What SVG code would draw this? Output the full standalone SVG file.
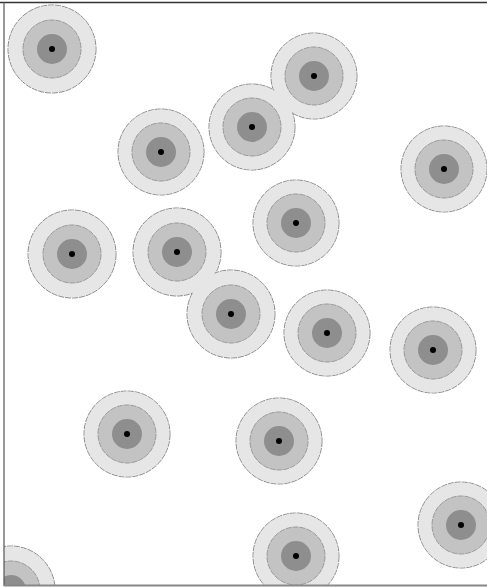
<svg xmlns="http://www.w3.org/2000/svg" xmlns:xlink="http://www.w3.org/1999/xlink" width="487" height="588" viewBox="0 0 487 588">
<defs>
<style>
.os{fill:#e6e6e6;stroke:#8c8c8c;stroke-width:1;stroke-dasharray:6 1}
.of{fill:#e6e6e6;stroke:none}
.m{fill:#c3c3c3;stroke:#8a8a8a;stroke-width:0.8;stroke-dasharray:6 1}
.i{fill:#8e8e8e;stroke:none}
.d{fill:#000}
</style>
<clipPath id="frame"><rect x="4" y="2" width="483" height="583"/></clipPath>
</defs>
<rect width="487" height="588" fill="#fff"/>
<g clip-path="url(#frame)">
<g id="outer-stroke">
<circle class="os" cx="52" cy="49" r="44"/>
<circle class="os" cx="314" cy="76" r="43"/>
<circle class="os" cx="161" cy="152" r="43"/>
<circle class="os" cx="252" cy="127" r="43"/>
<circle class="os" cx="444" cy="169" r="43"/>
<circle class="os" cx="72" cy="254" r="44"/>
<circle class="os" cx="177" cy="252" r="44"/>
<circle class="os" cx="296" cy="223" r="43"/>
<circle class="os" cx="231" cy="314" r="44"/>
<circle class="os" cx="327" cy="333" r="43"/>
<circle class="os" cx="433" cy="350" r="43"/>
<circle class="os" cx="127" cy="434" r="43"/>
<circle class="os" cx="279" cy="441" r="43"/>
<circle class="os" cx="461" cy="525" r="43"/>
<circle class="os" cx="296" cy="556" r="43"/>
<circle class="os" cx="11" cy="590" r="44"/>
</g>
<g id="outer-fill">
<circle class="of" cx="52" cy="49" r="43.4"/>
<circle class="of" cx="314" cy="76" r="42.4"/>
<circle class="of" cx="161" cy="152" r="42.4"/>
<circle class="of" cx="252" cy="127" r="42.4"/>
<circle class="of" cx="444" cy="169" r="42.4"/>
<circle class="of" cx="72" cy="254" r="43.4"/>
<circle class="of" cx="177" cy="252" r="43.4"/>
<circle class="of" cx="296" cy="223" r="42.4"/>
<circle class="of" cx="231" cy="314" r="43.4"/>
<circle class="of" cx="327" cy="333" r="42.4"/>
<circle class="of" cx="433" cy="350" r="42.4"/>
<circle class="of" cx="127" cy="434" r="42.4"/>
<circle class="of" cx="279" cy="441" r="42.4"/>
<circle class="of" cx="461" cy="525" r="42.4"/>
<circle class="of" cx="296" cy="556" r="42.4"/>
<circle class="of" cx="11" cy="590" r="43.4"/>
</g>
<g id="n1"><circle class="m" cx="52" cy="49" r="29"/><circle class="i" cx="52" cy="49" r="15"/><circle class="d" cx="52" cy="49" r="3"/></g>
<g id="n2"><circle class="m" cx="314" cy="76" r="29"/><circle class="i" cx="314" cy="76" r="15"/><circle class="d" cx="314" cy="76" r="3"/></g>
<g id="n3"><circle class="m" cx="161" cy="152" r="29"/><circle class="i" cx="161" cy="152" r="15"/><circle class="d" cx="161" cy="152" r="3"/></g>
<g id="n4"><circle class="m" cx="252" cy="127" r="29"/><circle class="i" cx="252" cy="127" r="15"/><circle class="d" cx="252" cy="127" r="3"/></g>
<g id="n5"><circle class="m" cx="444" cy="169" r="29"/><circle class="i" cx="444" cy="169" r="15"/><circle class="d" cx="444" cy="169" r="3"/></g>
<g id="n6"><circle class="m" cx="72" cy="254" r="29"/><circle class="i" cx="72" cy="254" r="15"/><circle class="d" cx="72" cy="254" r="3"/></g>
<g id="n7"><circle class="m" cx="177" cy="252" r="29"/><circle class="i" cx="177" cy="252" r="15"/><circle class="d" cx="177" cy="252" r="3"/></g>
<g id="n8"><circle class="m" cx="296" cy="223" r="29"/><circle class="i" cx="296" cy="223" r="15"/><circle class="d" cx="296" cy="223" r="3"/></g>
<g id="n9"><circle class="m" cx="231" cy="314" r="29"/><circle class="i" cx="231" cy="314" r="15"/><circle class="d" cx="231" cy="314" r="3"/></g>
<g id="n10"><circle class="m" cx="327" cy="333" r="29"/><circle class="i" cx="327" cy="333" r="15"/><circle class="d" cx="327" cy="333" r="3"/></g>
<g id="n11"><circle class="m" cx="433" cy="350" r="29"/><circle class="i" cx="433" cy="350" r="15"/><circle class="d" cx="433" cy="350" r="3"/></g>
<g id="n12"><circle class="m" cx="127" cy="434" r="29"/><circle class="i" cx="127" cy="434" r="15"/><circle class="d" cx="127" cy="434" r="3"/></g>
<g id="n13"><circle class="m" cx="279" cy="441" r="29"/><circle class="i" cx="279" cy="441" r="15"/><circle class="d" cx="279" cy="441" r="3"/></g>
<g id="n14"><circle class="m" cx="461" cy="525" r="29"/><circle class="i" cx="461" cy="525" r="15"/><circle class="d" cx="461" cy="525" r="3"/></g>
<g id="n15"><circle class="m" cx="296" cy="556" r="29"/><circle class="i" cx="296" cy="556" r="15"/><circle class="d" cx="296" cy="556" r="3"/></g>
<g id="n16"><circle class="m" cx="11" cy="590" r="29"/><circle class="i" cx="11" cy="590" r="15"/><circle class="d" cx="11" cy="590" r="3"/></g>
</g>
<g id="frame-lines">
<line x1="0" y1="2.5" x2="487" y2="2.5" stroke="#333" stroke-width="1.5"/>
<line x1="4" y1="2" x2="4" y2="586" stroke="#555" stroke-width="1.2"/>
<line x1="4" y1="585.5" x2="487" y2="585.5" stroke="#888" stroke-width="2"/>
</g>
</svg>
